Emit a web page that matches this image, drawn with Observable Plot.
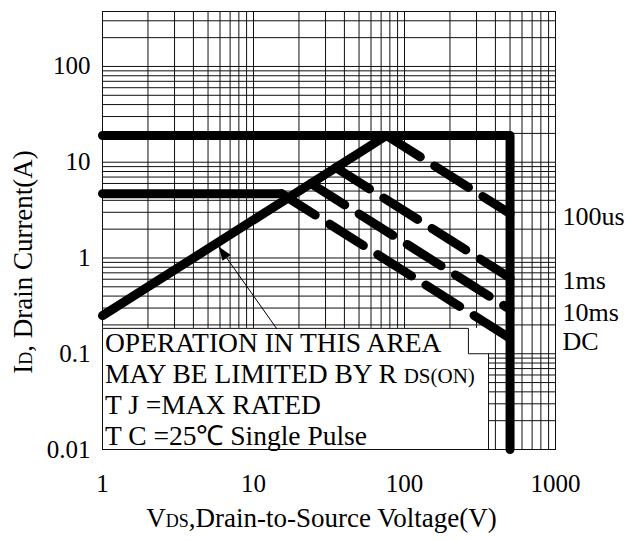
<!DOCTYPE html>
<html>
<head>
<meta charset="utf-8">
<script src="https://cdn.jsdelivr.net/npm/d3@7"></script>
<script src="https://cdn.jsdelivr.net/npm/@observablehq/plot@0.6"></script>
<style>
  html, body { margin: 0; padding: 0; background: #fff; }
</style>
</head>
<body>
<div id="chart"></div>
<script>
// ---- data ----
const xTicks = [1, 10, 100, 1000];
const yTicks = [0.01, 0.1, 1, 10, 100];
const xGrid = [1,2,3,4,5,6,7,8,9,10,20,30,40,50,60,70,80,90,100,200,300,400,500,600,700,800,900,1000];
const yGrid = [0.01,0.02,0.03,0.04,0.05,0.06,0.07,0.08,0.09,0.1,0.2,0.3,0.4,0.5,0.6,0.7,0.8,0.9,1,2,3,4,5,6,7,8,9,10,20,30,40,50,60,70,80,90,100,200,300];

// package limits: pulsed current ceiling and BVDSS wall
const limitV = [1, 500, 500];
const limitI = [19, 19, 0.01];
// continuous current ceiling
const flatV = [1, 15.3];
const flatI = [4.7, 4.7];
// RDS(on) limit
const rdsV = [1, 76];
const rdsI = [0.25, 19];
// pulse curves
const us100V = [76, 500];
const us100I = [19, 2.9];
const ms1V = [35, 500];
const ms1I = [8.8, 0.62];
const ms10V = [24, 500];
const ms10I = [6.0, 0.29];
const dcV = [15.3, 500];
const dcI = [4.7, 0.145];

const curveLabels = ["100us", "1ms", "10ms", "DC"];
const curveLabelI = [2.9, 0.62, 0.29, 0.145];

// annotation box and arrow
const boxV = [1, 360];
const boxI = [0.01, 0.184];
const boxEdgeV = [1, 1, 265, 265, 360, 360];
const boxEdgeI = [0.01, 0.184, 0.184, 0.1, 0.1, 0.01];
const arrowV = [14.2, 5.87];
const arrowI = [0.184, 1.32];
const noteLines = ["OPERATION IN THIS AREA", "MAY BE LIMITED BY R ", "T J =MAX RATED", "T C =25℃ Single Pulse"];

const xTitle = ["V", "DS", ",Drain-to-Source Voltage(V)"];
const yTitle = ["I", "D", ", Drain Current(A)"];

// ---- helpers ----
const SERIF = "'Liberation Serif', 'Times New Roman', Times, serif";
const pts = (V, I) => V.map((v, k) => ({v, i: I[k]}));
const thick = {x: "v", y: "i", stroke: "black", strokeWidth: 9, strokeLinecap: "round", strokeLinejoin: "round"};
const dashed = {...thick, strokeDasharray: "40,17"};
const headSymbol = {
  draw(ctx) {
    const L = 14, w = 5;
    ctx.moveTo(0, 0);
    ctx.lineTo(-w, L);
    ctx.lineTo(w, L);
    ctx.closePath();
  }
};

function build(angle) {
  return Plot.plot({
    width: 630,
    height: 541,
    marginLeft: 102,
    marginRight: 75,
    marginTop: 11,
    marginBottom: 92,
    style: {fontFamily: SERIF, fontSize: "25px", background: "white", color: "black", overflow: "visible"},
    x: {type: "log", domain: [1, 1000]},
    y: {type: "log", domain: [0.01, 375]},
    marks: [
      Plot.ruleX(xGrid, {stroke: "#111", strokeWidth: 1}),
      Plot.ruleY(yGrid, {stroke: "#111", strokeWidth: 1}),
      Plot.frame({stroke: "#111", strokeWidth: 1}),
      Plot.rect([0], {x1: () => boxV[0], x2: () => boxV[1], y1: () => boxI[0], y2: () => boxI[1], fill: "white"}),
      Plot.line(pts(boxEdgeV, boxEdgeI), {x: "v", y: "i", stroke: "#111", strokeWidth: 1}),
      Plot.line(pts(arrowV, arrowI), {x: "v", y: "i", stroke: "black", strokeWidth: 1}),
      Plot.dot(pts([arrowV[1]], [arrowI[1]]), {x: "v", y: "i", symbol: headSymbol, fill: "black", stroke: "none", rotate: angle}),
      Plot.line(pts(limitV, limitI), thick),
      Plot.line(pts(flatV, flatI), thick),
      Plot.line(pts(rdsV, rdsI), thick),
      Plot.line(pts(us100V, us100I), dashed),
      Plot.line(pts(ms1V, ms1I), dashed),
      Plot.line(pts(ms10V, ms10I), dashed),
      Plot.line(pts(dcV, dcI), dashed),
      Plot.text(curveLabels, {x: () => 1000, y: (d, k) => curveLabelI[k], text: d => d, textAnchor: "start", dx: 7, dy: 3, fontSize: 26, fill: "black"}),
      Plot.axisX({ticks: xTicks, tickFormat: d => String(d), tickSize: 0, tickPadding: 25, label: null, fontSize: 25}),
      Plot.axisY({ticks: yTicks, tickFormat: d => String(d), tickSize: 0, tickPadding: 12, label: null, fontSize: 25})
    ]
  });
}

// first pass to read scales for the arrowhead direction
const probe = build(0);
const X0 = probe.scale("x"), Y0 = probe.scale("y");
const dx = X0.apply(arrowV[1]) - X0.apply(arrowV[0]);
const dy = Y0.apply(arrowI[1]) - Y0.apply(arrowI[0]);
const angle = Math.atan2(dx, -dy) * 180 / Math.PI;

const plot = build(angle);
const X = plot.scale("x"), Y = plot.scale("y");
const svg = d3.select(plot);

// axis titles with small subscripts
const xt = svg.append("text")
  .attr("x", (X.apply(1) + X.apply(1000)) / 2 - 7)
  .attr("y", 527)
  .attr("text-anchor", "middle")
  .attr("font-size", 27)
  .attr("fill", "black");
xt.append("tspan").text(xTitle[0]);
xt.append("tspan").attr("font-size", 18).text(xTitle[1]);
xt.append("tspan").text(xTitle[2]);

const yt = svg.append("text")
  .attr("transform", `translate(32,${(Y.apply(0.01) + Y.apply(375)) / 2 + 32}) rotate(-90)`)
  .attr("text-anchor", "middle")
  .attr("font-size", 27)
  .attr("fill", "black");
yt.append("tspan").text(yTitle[0]);
yt.append("tspan").attr("font-size", 18).text(yTitle[1]);
yt.append("tspan").text(yTitle[2]);

// note box text
const nx = X.apply(1) + 3;
const ny = Y.apply(boxI[1]) + 24;
noteLines.forEach((line, k) => {
  const t = svg.append("text")
    .attr("x", nx)
    .attr("y", ny + k * 31)
    .attr("text-anchor", "start")
    .attr("font-size", 27.5)
    .attr("fill", "black");
  t.append("tspan").text(line);
  if (k === 1) t.append("tspan").attr("font-size", 21).text("DS(ON)");
});

document.getElementById("chart").appendChild(plot);
</script>
</body>
</html>
